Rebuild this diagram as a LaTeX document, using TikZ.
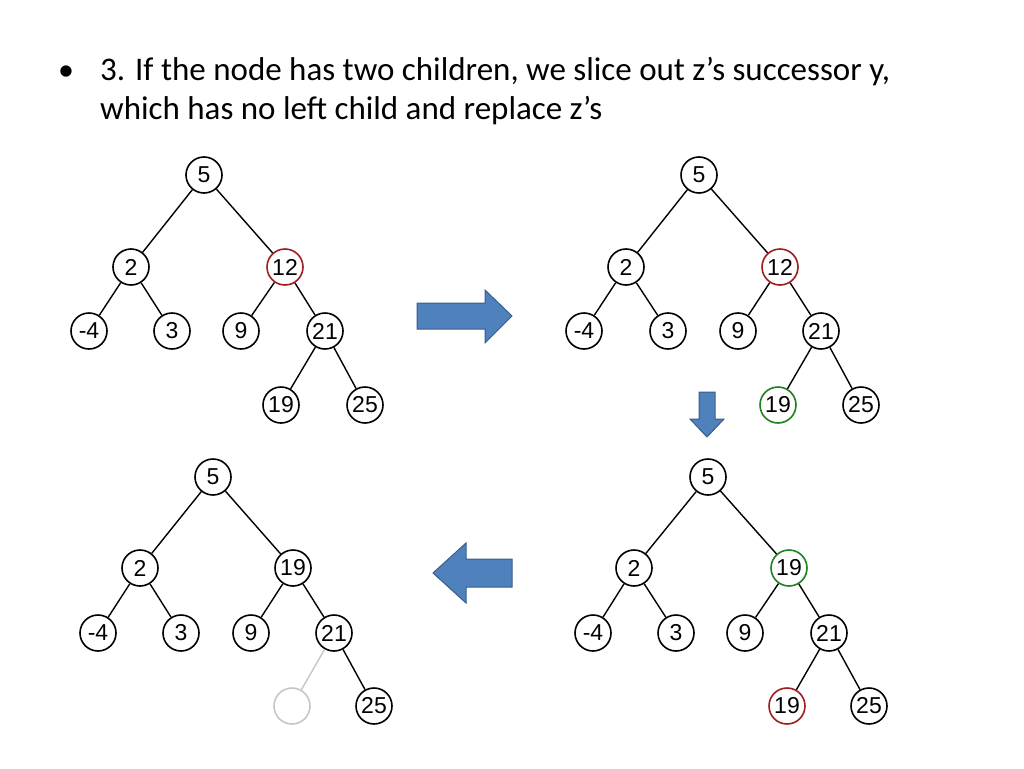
\documentclass[tikz,border=0pt]{standalone}
\usepackage{fontspec}
\setmainfont{Carlito}
\newfontfamily\nodefont{Liberation Sans}
\definecolor{arrowblue}{RGB}{79,129,189}
\definecolor{arrowedge}{RGB}{56,93,138}
\definecolor{darkred}{RGB}{160,30,30}
\definecolor{dgreen}{RGB}{30,130,30}
\begin{document}
\begin{tikzpicture}[x=1pt,y=-1pt,
  tn/.style={circle,draw,line width=1.6pt,minimum size=36pt,inner sep=0pt,font=\fontsize{23}{23}\selectfont\nodefont},
  rn/.style={tn,draw=darkred},
  gn/.style={tn,draw=dgreen},
  en/.style={tn,draw=gray!45},
  ed/.style={line width=1.4pt},
  blk/.style={fill=arrowblue,draw=arrowedge,line width=1pt}]
\useasboundingbox (0,0) rectangle (1024,768);
\node[anchor=base west,font=\fontsize{32}{32}\selectfont,inner sep=0pt] (t1) at (58,80) {•};
\node[anchor=base west,font=\fontsize{33}{33}\selectfont,inner sep=0pt] (t2) at (100,80) {3. If the node has two children, we slice out z’s successor y,};
\node[anchor=base west,font=\fontsize{33}{33}\selectfont,inner sep=0pt] (t3) at (100,119) {which has no left child and replace z’s};
% tree A
\node[tn] (a5) at (204,175) {5};
\node[tn] (a2) at (131,267) {2};
\node[rn] (a12) at (285,267) {12};
\node[tn] (am4) at (89,331) {-4};
\node[tn] (a3) at (172,331) {3};
\node[tn] (a9) at (241,331) {9};
\node[tn] (a21) at (325,331) {21};
\node[tn] (a19) at (281,405) {19};
\node[tn] (a25) at (365,405) {25};
\draw[ed] (a5)--(a2) (a5)--(a12) (a2)--(am4) (a2)--(a3) (a12)--(a9) (a12)--(a21) (a21)--(a19) (a21)--(a25);
% tree B
\node[tn] (b5) at (699,175) {5};
\node[tn] (b2) at (626,267) {2};
\node[rn] (b12) at (780,267) {12};
\node[tn] (bm4) at (584,331) {-4};
\node[tn] (b3) at (668,331) {3};
\node[tn] (b9) at (738,331) {9};
\node[tn] (b21) at (821,331) {21};
\node[gn] (b19) at (778,405) {19};
\node[tn] (b25) at (861,405) {25};
\draw[ed] (b5)--(b2) (b5)--(b12) (b2)--(bm4) (b2)--(b3) (b12)--(b9) (b12)--(b21) (b21)--(b19) (b21)--(b25);
% tree C
\node[tn] (c5) at (708,477) {5};
\node[tn] (c2) at (634,568) {2};
\node[gn] (c12) at (789,568) {19};
\node[tn] (cm4) at (593,633) {-4};
\node[tn] (c3) at (676,633) {3};
\node[tn] (c9) at (745,633) {9};
\node[tn] (c21) at (829,633) {21};
\node[rn] (c19) at (787,706) {19};
\node[tn] (c25) at (869,706) {25};
\draw[ed] (c5)--(c2) (c5)--(c12) (c2)--(cm4) (c2)--(c3) (c12)--(c9) (c12)--(c21) (c21)--(c19) (c21)--(c25);
% tree D
\node[tn] (d5) at (213,477) {5};
\node[tn] (d2) at (140,568) {2};
\node[tn] (d12) at (293,568) {19};
\node[tn] (dm4) at (98,633) {-4};
\node[tn] (d3) at (181,633) {3};
\node[tn] (d9) at (251,633) {9};
\node[tn] (d21) at (334,633) {21};
\node[en] (d19) at (292,706) {};
\node[tn] (d25) at (374,706) {25};
\draw[ed] (d5)--(d2) (d5)--(d12) (d2)--(dm4) (d2)--(d3) (d12)--(d9) (d12)--(d21) (d21)--(d25);
\draw[ed,gray!45] (d21)--(d19);
% arrows
\draw[blk] (417,303)--(485,303)--(485,290)--(512,316)--(485,343)--(485,329)--(417,329)--cycle;
\draw[blk] (699,392)--(715,392)--(715,419)--(724,419)--(707,437)--(690,419)--(699,419)--cycle;
\draw[blk] (512,559)--(466,559)--(466,543)--(433,573)--(466,603)--(466,587)--(512,587)--cycle;
\end{tikzpicture}
\end{document}
